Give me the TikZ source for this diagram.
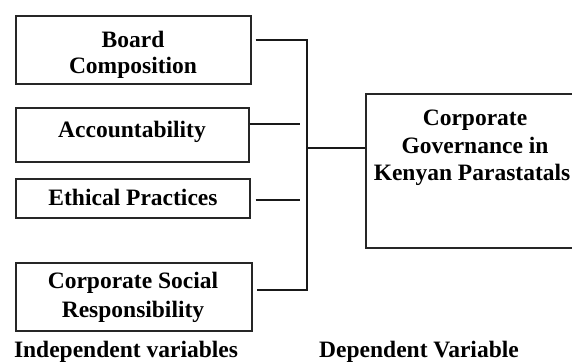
\documentclass[tikz,border=0pt]{standalone}
\usepackage{fontspec}
\setmainfont{Liberation Serif}
\begin{document}
\begin{tikzpicture}[x=1pt,y=-1pt,
  box/.style={draw=black!85,line width=1.4pt,rectangle,inner sep=0pt},
  txt/.style={font=\fontsize{23.5}{27}\selectfont\bfseries,anchor=base,inner sep=0pt},
  link/.style={draw=black!90,line width=1.4pt}]
  \useasboundingbox (0,0) rectangle (572,361);
  \clip (0,0) rectangle (572,361);
  % independent variable boxes
  \node[box,minimum width=235pt,minimum height=68pt] (b1) at (133.5,50) {};
  \node[box,minimum width=233pt,minimum height=54pt] (b2) at (132.5,135) {};
  \node[box,minimum width=234pt,minimum height=39pt] (b3) at (133,198.5) {};
  \node[box,minimum width=236pt,minimum height=68pt] (b4) at (134,297) {};
  % dependent variable box (runs past the right edge)
  \node[box,minimum width=224pt,minimum height=154pt] (dv) at (478,171) {};
  % box texts
  \node[txt] (t1a) at (133,48) {Board};
  \node[txt] (t1b) at (133,74) {Composition};
  \node[txt] (t2) at (132,137) {Accountability};
  \node[txt] (t3) at (133,205) {Ethical Practices};
  \node[txt] (t4a) at (133,288) {Corporate Social};
  \node[txt] (t4b) at (133,317) {Responsibility};
  \node[txt] (d1) at (475,125) {Corporate};
  \node[txt] (d2) at (475,153) {Governance in};
  \node[txt] (d3) at (472,180) {Kenyan Parastatals};
  % captions
  \node[txt] (capI) at (126,357) {Independent variables};
  \node[txt] (capD) at (419,357) {Dependent Variable};
  % connectors
  \coordinate (top) at (307,40);
  \coordinate (bot) at (307,290);
  \coordinate (mid) at (307,148);
  \draw[link] ([xshift=4pt]b1.east |- top) -- (top) -- (bot) -- ([xshift=4pt]b4.east |- bot);
  \draw[link] (b2.east |- 0,124) -- (300,124);
  \draw[link] ([xshift=5pt]b3.east |- 0,200) -- (300,200);
  \draw[link] (mid) -- (dv.west |- mid);
\end{tikzpicture}
\end{document}
